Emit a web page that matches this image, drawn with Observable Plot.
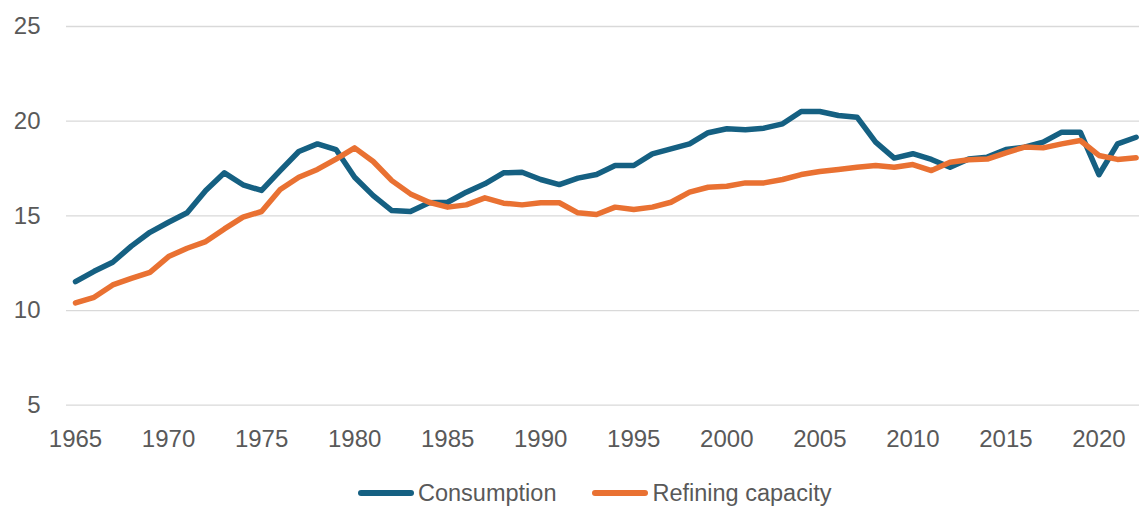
<!DOCTYPE html>
<html>
<head>
<meta charset="utf-8">
<script src="https://cdn.jsdelivr.net/npm/d3@7"></script>
<script src="https://cdn.jsdelivr.net/npm/@observablehq/plot@0.6"></script>
<style>
  html, body { margin: 0; padding: 0; background: #fff; overflow: hidden; }
  body { width: 1139px; height: 507px; font-family: "Liberation Sans", Arial, sans-serif; }
  #legend { height: 46px; display: flex; align-items: center; padding-left: 358px; box-sizing: border-box;
            font-size: 23.5px; color: #595959; }
  .item { display: flex; align-items: center; margin-right: 36px; }
  .sw { display: inline-block; width: 56px; height: 6px; border-radius: 3px; margin-right: 4px; }
</style>
</head>
<body>
<div id="chart"></div>
<div id="legend"></div>
<script>
const years = [1965,1966,1967,1968,1969,1970,1971,1972,1973,1974,
  1975,1976,1977,1978,1979,1980,1981,1982,1983,1984,
  1985,1986,1987,1988,1989,1990,1991,1992,1993,1994,
  1995,1996,1997,1998,1999,2000,2001,2002,2003,2004,
  2005,2006,2007,2008,2009,2010,2011,2012,2013,2014,
  2015,2016,2017,2018,2019,2020,2021,2022];
const consumption = [11.53,12.07,12.55,13.4,14.13,14.66,15.16,16.34,17.27,16.64,
  16.34,17.39,18.4,18.8,18.5,17.04,16.07,15.28,15.23,15.69,
  15.72,16.25,16.69,17.27,17.3,16.92,16.65,16.99,17.18,17.66,
  17.66,18.27,18.54,18.8,19.39,19.6,19.55,19.63,19.86,20.51,
  20.51,20.3,20.21,18.89,18.05,18.28,17.98,17.57,18.0,18.1,
  18.5,18.63,18.89,19.42,19.42,17.17,18.8,19.15];
const refining = [10.4,10.7,11.35,11.7,12.02,12.85,13.29,13.64,14.31,14.93,
  15.23,16.39,17.04,17.45,18.0,18.59,17.87,16.86,16.16,15.72,
  15.46,15.58,15.95,15.67,15.58,15.69,15.69,15.16,15.07,15.46,
  15.33,15.46,15.72,16.25,16.51,16.56,16.74,16.74,16.92,17.18,
  17.34,17.45,17.57,17.66,17.57,17.71,17.39,17.83,17.96,18.0,
  18.33,18.63,18.59,18.8,18.98,18.19,17.98,18.07];
const seriesNames = ["Consumption", "Refining capacity"];
const seriesColors = ["#156082", "#E97132"];
const yTicks = [5, 10, 15, 20, 25];
const xTicks = [1965,1970,1975,1980,1985,1990,1995,2000,2005,2010,2015,2020];

const rows = [];
years.forEach((yr, i) => rows.push({year: yr, value: consumption[i], series: seriesNames[0]}));
years.forEach((yr, i) => rows.push({year: yr, value: refining[i], series: seriesNames[1]}));

const chart = Plot.plot({
  width: 1139,
  height: 470,
  marginTop: 26,
  marginBottom: 65.3,
  marginLeft: 66,
  marginRight: 0,
  style: { fontFamily: "'Liberation Sans', Arial, sans-serif", fontSize: "24px", color: "#595959", background: "#fff" },
  x: { domain: [1964.516, 2022.18], ticks: xTicks, tickFormat: d => String(d), tickSize: 0, tickPadding: 25, label: null },
  y: { domain: [5, 25], ticks: yTicks, tickSize: 0, tickPadding: 26, label: null },
  color: { domain: seriesNames, range: seriesColors },
  marks: [
    Plot.ruleY(yTicks, { stroke: "#d9d9d9", strokeWidth: 1.3 }),
    Plot.axisX({ ticks: xTicks, tickFormat: d => String(d), tickSize: 0, tickPadding: 25, fill: "#595959", fontSize: 24, label: null }),
    Plot.axisY({ ticks: yTicks, tickSize: 0, tickPadding: 26, fill: "#595959", fontSize: 24, label: null }),
    Plot.line(rows, { x: "year", y: "value", z: "series", stroke: "series", strokeWidth: 5.5,
                      strokeLinejoin: "round", strokeLinecap: "round" })
  ]
});
document.getElementById("chart").appendChild(chart);

const legend = document.getElementById("legend");
seriesNames.forEach((name, i) => {
  const item = document.createElement("div");
  item.className = "item";
  const sw = document.createElement("span");
  sw.className = "sw";
  sw.style.background = seriesColors[i];
  const label = document.createElement("span");
  label.textContent = name;
  item.appendChild(sw);
  item.appendChild(label);
  legend.appendChild(item);
});
</script>
</body>
</html>
